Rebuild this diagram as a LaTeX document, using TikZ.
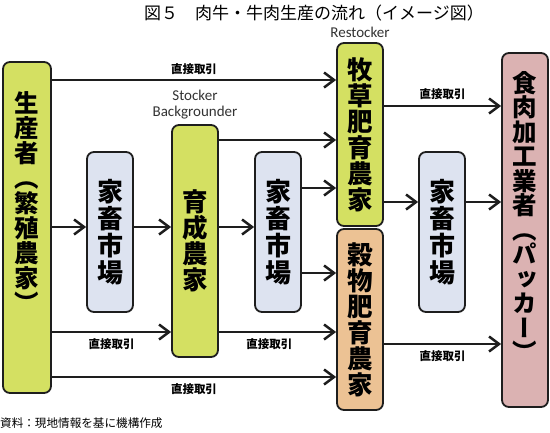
\documentclass[tikz,border=0pt]{standalone}
\usepackage{fontspec}
\setmainfont{Carlito}
\newfontfamily\jp{Noto Sans CJK JP}
\newfontfamily\jpv[RawFeature=+vert]{Noto Sans CJK JP}
\usetikzlibrary{arrows.meta}

\definecolor{farmgreen}{RGB}{212,224,98}
\definecolor{marketblue}{RGB}{221,227,240}
\definecolor{grainorange}{RGB}{236,194,148}
\definecolor{packerpink}{RGB}{219,178,178}
\definecolor{boxline}{RGB}{30,30,30}

\begin{document}
\begin{tikzpicture}[
    x=1pt, y=-1pt,           % pixel-like units, y downwards
    line cap=round,
    line join=round,
    box/.style={draw=boxline, line width=1.8pt, rounded corners=7pt,
                minimum width=46pt, inner sep=0pt, align=center,
                font=\jpv\bfseries\fontsize{25.5}{26}\selectfont},
    market/.style={box, fill=marketblue, minimum height=160pt,
                font=\jpv\bfseries\fontsize{26}{27}\selectfont},
    flow/.style={line width=2.5pt, draw=boxline,
                -{Straight Barb[length=10pt,width=15pt]}},
    deal/.style={font=\jp\bfseries\fontsize{11.5}{12}\selectfont, inner sep=1pt}
]
\useasboundingbox[fill=white] (0,0) rectangle (550,432);

%-----------------------
% 1) TITLE AND SOURCE
%-----------------------
\node[font=\jp\fontsize{17}{18}\selectfont] (title) at (314,13)
  {図５　肉牛・牛肉生産の流れ（イメージ図）};
\node[font=\jp\fontsize{11.6}{12}\selectfont, anchor=west, inner sep=0pt] (src) at (0,423)
  {資料：現地情報を基に機構作成};

%-----------------------
% 2) BOXES
%-----------------------
% breeding farms (producer)
\node[box, fill=farmgreen, minimum width=48pt, minimum height=331pt] (prod) at (27,227.5) {};
\node[font=\jpv\bfseries\fontsize{24.5}{25}\selectfont, align=center, inner sep=0pt] (prodtxt)
  at (27,202.5) {生\\産\\者\\（\\繁\\殖\\農\\家\\）};

% livestock markets
\node[market] (mkt1) at (110,232) {家\\畜\\市\\場};
\node[market] (mkt2) at (278,232) {家\\畜\\市\\場};
\node[market] (mkt3) at (442,232) {家\\畜\\市\\場};

% stocker / backgrounder
\node[box, fill=farmgreen, minimum height=232pt] (rear) at (195,241) {育\\成\\農\\家};
\node[align=center, above=1pt, text=black!80, font=\fontsize{15}{16.5}\selectfont]
  (rearlbl) at (rear.north) {Stocker\\Backgrounder};

% grass fed feeders (restocker)
\node[box, fill=farmgreen, minimum height=183pt] (grass) at (360,134.5) {牧\\草\\肥\\育\\農\\家};
\node[above=1pt, text=black!80, font=\fontsize{15}{16.5}\selectfont]
  (grasslbl) at (grass.north) {Restocker};

% grain fed feeders
\node[box, fill=grainorange, minimum height=181pt] (grain) at (360,319.5) {穀\\物\\肥\\育\\農\\家};

% packer
\node[box, fill=packerpink, minimum height=354pt] (packer) at (525,230) {};
\node[font=\jpv\bfseries\fontsize{24.5}{24.5}\selectfont, align=center, inner sep=0pt] (packtxt)
  at (525,216.5) {食\\肉\\加\\工\\業\\者\\（\\パ\\ッ\\カ\\ー\\）};

%-----------------------
% 3) FLOWS
%-----------------------
\draw[flow] (prod.east |- 0,80)  -- (grass.west |- 0,80) node[deal, midway, above=3pt] {直接取引};
\draw[flow] (prod.east |- 0,227) -- (mkt1.west |- 0,227);
\draw[flow] (prod.east |- 0,332) -- (rear.west |- 0,332) node[deal, midway, below=4pt] {直接取引};
\draw[flow] (prod.east |- 0,377) -- (grain.west |- 0,377) node[deal, midway, below=4pt] {直接取引};

\draw[flow] (mkt1.east |- 0,227) -- (rear.west |- 0,227);

\draw[flow] (rear.east |- 0,140) -- (grass.west |- 0,140);
\draw[flow] (rear.east |- 0,227) -- (mkt2.west |- 0,227);
\draw[flow] (rear.east |- 0,332) -- (grain.west |- 0,332) node[deal, pos=0.43, below=4pt] {直接取引};

\draw[flow] (mkt2.east |- 0,188) -- (grass.west |- 0,188);
\draw[flow] (mkt2.east |- 0,273) -- (grain.west |- 0,273);

\draw[flow] (grass.east |- 0,106) -- (packer.west |- 0,106) node[deal, midway, above=4pt] {直接取引};
\draw[flow] (grass.east |- 0,202) -- (mkt3.west |- 0,202);
\draw[flow] (mkt3.east |- 0,202) -- (packer.west |- 0,202);
\draw[flow] (grain.east |- 0,344) -- (packer.west |- 0,344) node[deal, midway, below=4pt] {直接取引};

\end{tikzpicture}
\end{document}
